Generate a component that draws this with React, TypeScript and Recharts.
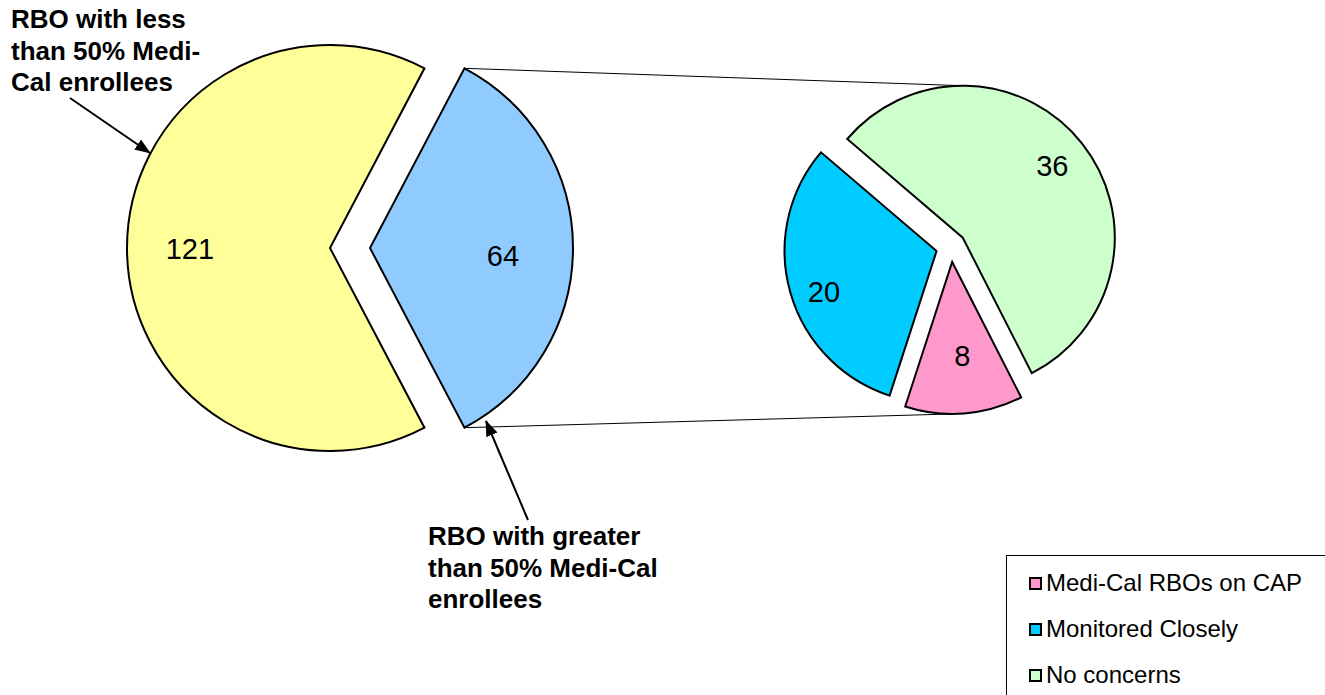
import React from 'react';
import { PieChart, Pie, Sector, Legend } from 'recharts';

// left pie: split of all RBOs
const leftNames = ['RBO with greater than 50% Medi-Cal enrollees', 'RBO with less than 50% Medi-Cal enrollees'];
const leftValues = [64, 121];

// right pie: breakdown of the >50% Medi-Cal slice
const rightNames = ['No concerns', 'Medi-Cal RBOs on CAP', 'Monitored Closely'];
const rightValues = [36, 8, 20];

const legendNames = ['Medi-Cal RBOs on CAP', 'Monitored Closely', 'No concerns'];

const leftData = leftNames.map((name, i) => ({ name, value: leftValues[i] }));
const rightData = rightNames.map((name, i) => ({ name, value: rightValues[i] }));

const LEFT_COLORS = ['#8FCBFF', '#FFFF99'];
const RIGHT_COLORS = ['#CCFFCC', '#FF99CC', '#00CCFF'];
const COLOR_BY_NAME: Record<string, string> = {
  'No concerns': '#CCFFCC',
  'Medi-Cal RBOs on CAP': '#FF99CC',
  'Monitored Closely': '#00CCFF',
};

const LEFT_EXPLODE = [40, 0];
const RIGHT_EXPLODE = [15, 15, 15];
const LEFT_LABEL_R = [0.65, 0.69];
const RIGHT_LABEL_R = [0.75, 0.6, 0.79];
// small nudges of the value labels, [dx, dy]
const LEFT_LABEL_NUDGE = [[1, 8], [0, 1]];
const RIGHT_LABEL_NUDGE = [[0, -1], [3, 3], [3, 8]];

const LEFT = { cx: 330, cy: 248, r: 203 };
const RIGHT = { cx: 951, cy: 247, r: 152, start: 139.5 };

const FONT = 'Arial, "Liberation Sans", sans-serif';
const RAD = Math.PI / 180;

const leftTotal = leftValues.reduce((a, b) => a + b, 0);
const leftStart = (180 * leftValues[0]) / leftTotal;

// ends of the split slice arc, where the connector lines start
const blueCx = LEFT.cx + LEFT_EXPLODE[0];
const connTop = { x: blueCx + LEFT.r * Math.cos(leftStart * RAD), y: LEFT.cy - LEFT.r * Math.sin(leftStart * RAD) };
const connBottom = { x: connTop.x, y: LEFT.cy + LEFT.r * Math.sin(leftStart * RAD) };

const makeSlice =
  (colors: string[], explode: number[], labelR: number[], nudge: number[][], connect: boolean) => (props: any) => {
    const { cx, cy, outerRadius, startAngle, endAngle, midAngle, index, value } = props;
    const cos = Math.cos(-midAngle * RAD);
    const sin = Math.sin(-midAngle * RAD);
    const x0 = cx + explode[index] * cos;
    const y0 = cy + explode[index] * sin;
    const lr = outerRadius * labelR[index];
    let line = null;
    if (connect && index === 0) {
      line = <line x1={connTop.x} y1={connTop.y} x2={x0} y2={y0 - outerRadius} stroke="#000" strokeWidth={1} />;
    }
    if (connect && index === 1) {
      line = <line x1={connBottom.x} y1={connBottom.y} x2={x0} y2={y0 + outerRadius} stroke="#000" strokeWidth={1} />;
    }
    return (
      <g key={`slice-${index}`}>
        {line}
        <Sector
          cx={x0}
          cy={y0}
          innerRadius={0}
          outerRadius={outerRadius}
          startAngle={startAngle}
          endAngle={endAngle}
          fill={colors[index]}
          stroke="#000"
          strokeWidth={2}
        />
        <text
          x={x0 + lr * cos + nudge[index][0]}
          y={y0 + lr * sin + nudge[index][1]}
          textAnchor="middle"
          dominantBaseline="central"
          fontFamily={FONT}
          fontSize={29}
          fill="#000"
          stroke="none"
        >
          {value}
        </text>
      </g>
    );
  };

const LegendBox = () => (
  <div
    style={{
      width: 325,
      height: 145,
      border: '1px solid #000',
      boxSizing: 'border-box',
      background: '#fff',
      position: 'relative',
      fontFamily: FONT,
      fontSize: 24,
      color: '#000',
    }}
  >
    {legendNames.map((name, i) => (
      <div
        key={name}
        style={{ position: 'absolute', left: 22, top: 27 + i * 46 - 14, height: 28, display: 'flex', alignItems: 'center' }}
      >
        <span
          style={{
            display: 'inline-block',
            width: 13,
            height: 13,
            border: '2px solid #000',
            boxSizing: 'border-box',
            background: COLOR_BY_NAME[name],
            marginRight: 4,
          }}
        />
        <span style={{ whiteSpace: 'nowrap' }}>{name}</span>
      </div>
    ))}
  </div>
);

const boldText = { fontFamily: FONT, fontSize: 26, fontWeight: 700, fill: '#000' } as const;

export default function App() {
  return (
    <div style={{ position: 'absolute', left: 0, top: 0, width: 1325, height: 695, overflow: 'hidden', background: '#fff' }}>
      <PieChart width={1325} height={695} margin={{ top: 0, right: 0, bottom: 0, left: 0 }}>
        <Pie
          data={leftData}
          dataKey="value"
          nameKey="name"
          cx={LEFT.cx}
          cy={LEFT.cy}
          outerRadius={LEFT.r}
          startAngle={leftStart}
          endAngle={leftStart - 360}
          fill="none"
          stroke="none"
          labelLine={false}
          label={makeSlice(LEFT_COLORS, LEFT_EXPLODE, LEFT_LABEL_R, LEFT_LABEL_NUDGE, false)}
          isAnimationActive={false}
        />
        <Pie
          data={rightData}
          dataKey="value"
          nameKey="name"
          cx={RIGHT.cx}
          cy={RIGHT.cy}
          outerRadius={RIGHT.r}
          startAngle={RIGHT.start}
          endAngle={RIGHT.start - 360}
          fill="none"
          stroke="none"
          labelLine={false}
          label={makeSlice(RIGHT_COLORS, RIGHT_EXPLODE, RIGHT_LABEL_R, RIGHT_LABEL_NUDGE, true)}
          isAnimationActive={false}
        />
        <Legend
          content={() => <LegendBox />}
          wrapperStyle={{ position: 'absolute', left: 1006, top: 555, bottom: 'auto', width: 325, height: 145 }}
        />
      </PieChart>
      <svg width={1325} height={695} style={{ position: 'absolute', left: 0, top: 0, pointerEvents: 'none' }}>
        <defs>
          <marker id="arrow" markerUnits="userSpaceOnUse" markerWidth={16} markerHeight={12} viewBox="0 0 16 12" refX={15} refY={6} orient="auto">
            <path d="M0,0 L16,6 L0,12 z" fill="#000" />
          </marker>
        </defs>
        <text {...boldText}>
          <tspan x={11} y={28}>RBO with less</tspan>
          <tspan x={11} y={59.5}>than 50% Medi-</tspan>
          <tspan x={11} y={91}>Cal enrollees</tspan>
        </text>
        <line x1={70} y1={98} x2={150} y2={153} stroke="#000" strokeWidth={2} markerEnd="url(#arrow)" />
        <text {...boldText}>
          <tspan x={428} y={545}>RBO with greater</tspan>
          <tspan x={428} y={576.5}>than 50% Medi-Cal</tspan>
          <tspan x={428} y={608}>enrollees</tspan>
        </text>
        <line x1={528} y1={520} x2={486} y2={421} stroke="#000" strokeWidth={2} markerEnd="url(#arrow)" />
      </svg>
    </div>
  );
}
